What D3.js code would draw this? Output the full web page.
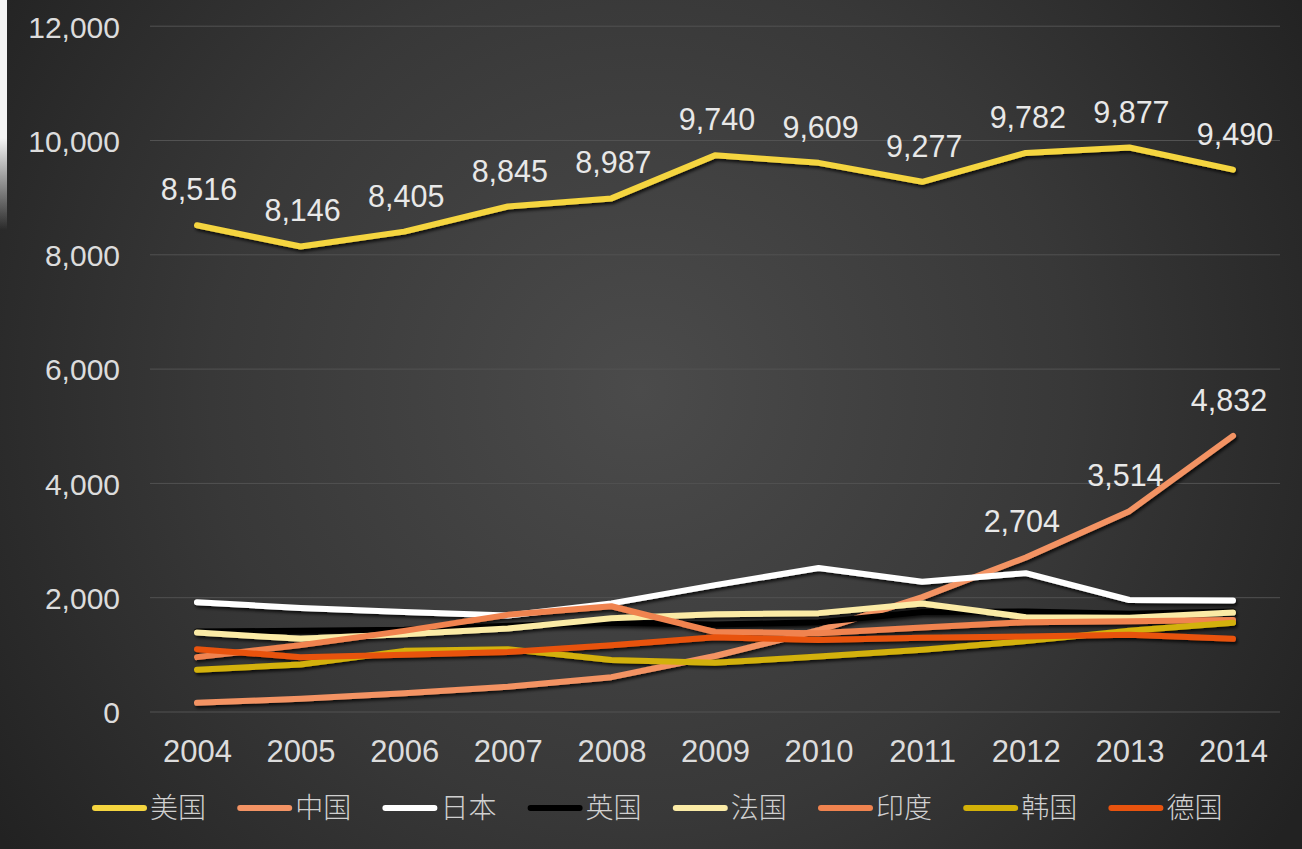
<!DOCTYPE html>
<html><head><meta charset="utf-8">
<script src="https://cdn.jsdelivr.net/npm/d3@7/dist/d3.min.js"></script>
<style>
html,body{margin:0;padding:0;background:#2a2a2a;overflow:hidden;}
svg{display:block;}
</style></head>
<body>
<script>
const years = [2004,2005,2006,2007,2008,2009,2010,2011,2012,2013,2014];
const seriesNames = ["美国","中国","日本","英国","法国","印度","韩国","德国"];
const seriesColors = ["#F5D53F","#F39364","#FFFFFF","#000000","#FBEBA6","#F0834F","#D3B108","#E8530E"];
const usa     = [8516,8146,8405,8845,8987,9740,9609,9277,9782,9877,9490];
const china   = [160,230,330,440,610,980,1430,2010,2704,3514,4832];
const japan   = [1920,1820,1750,1690,1900,2220,2520,2280,2430,1960,1950];
const uk      = [1410,1420,1440,1510,1560,1530,1570,1750,1760,1720,1760];
const france  = [1390,1280,1360,1460,1640,1710,1730,1900,1660,1650,1740];
const india   = [960,1170,1420,1700,1850,1400,1380,1480,1570,1590,1610];
const germany = [1100,960,1000,1050,1170,1310,1260,1300,1320,1350,1280];
const korea   = [740,830,1070,1100,910,860,970,1090,1240,1420,1560];
const seriesValues = [usa,china,japan,uk,france,india,korea,germany];
const yTicks = [0,2000,4000,6000,8000,10000,12000];
const labelledSeries = {"美国":[0,1,2,3,4,5,6,7,8,9,10],"中国":[8,9,10]};

const W=1302,H=849;
const svg=d3.select("body").append("svg").attr("width",W).attr("height",H);
const defs=svg.append("defs");
const rg=defs.append("radialGradient").attr("id","bg").attr("gradientUnits","userSpaceOnUse")
  .attr("cx",640).attr("cy",390).attr("r",780);
rg.append("stop").attr("offset","0%").attr("stop-color","#4b4b4b");
rg.append("stop").attr("offset","55%").attr("stop-color","#383838");
rg.append("stop").attr("offset","100%").attr("stop-color","#222222");
const sh=defs.append("filter").attr("id","shadow").attr("x","-5%").attr("y","-20%").attr("width","110%").attr("height","140%");
sh.append("feDropShadow").attr("dx",1.5).attr("dy",2.5).attr("stdDeviation",1.8).attr("flood-color","#000").attr("flood-opacity",0.75);
const lg=defs.append("linearGradient").attr("id","strip").attr("x1",0).attr("y1",0).attr("x2",0).attr("y2",1);
lg.append("stop").attr("offset","0%").attr("stop-color","#f4f4f4");
lg.append("stop").attr("offset","60%").attr("stop-color","#f4f4f4");
lg.append("stop").attr("offset","100%").attr("stop-color","#f4f4f4").attr("stop-opacity",0);

svg.append("rect").attr("width",W).attr("height",H).attr("fill","url(#bg)");
svg.append("rect").attr("x",0).attr("y",0).attr("width",7).attr("height",230).attr("fill","url(#strip)");

const x=d3.scalePoint().domain(years).range([197,1233]);
const y=d3.scaleLinear().domain([0,12000]).range([712,26.2]);

// gridlines
svg.append("g").selectAll("line").data(yTicks).join("line")
  .attr("x1",150).attr("x2",1280).attr("y1",d=>y(d)).attr("y2",d=>y(d))
  .attr("stroke","#525252").attr("stroke-width",1);

// y axis labels
const yAxis=d3.axisLeft(y).tickValues(yTicks).tickFormat(d3.format(",")).tickSize(0).tickPadding(0);
const ya=svg.append("g").attr("transform","translate(120,0)").call(yAxis);
ya.select(".domain").remove();
ya.selectAll("text").attr("fill","#dcdcdc").attr("font-family","'Liberation Sans',Arial,sans-serif")
  .attr("font-size",30).attr("dy","0.36em");

// x axis labels
const xAxis=d3.axisBottom(x).tickSize(0).tickPadding(0);
const xa=svg.append("g").attr("transform","translate(0,762)").call(xAxis);
xa.select(".domain").remove();
xa.selectAll("text").attr("fill","#dcdcdc").attr("font-family","'Liberation Sans',Arial,sans-serif")
  .attr("font-size",31).attr("dy",0).attr("y",0);

// lines
const line=d3.line().x((d,i)=>x(years[i])).y(d=>y(d));
const lg2=svg.append("g").attr("filter","url(#shadow)");
seriesValues.forEach((vals,k)=>{
  lg2.append("path").datum(vals).attr("d",line).attr("fill","none")
    .attr("stroke",seriesColors[k]).attr("stroke-width",6)
    .attr("stroke-linejoin","round").attr("stroke-linecap","round");
});

// data labels
Object.entries(labelledSeries).forEach(([name,idx])=>{
  const k=seriesNames.indexOf(name);
  svg.append("g").selectAll("text").data(idx).join("text")
    .attr("x",i=>x(years[i])+ (name==="中国"?-4:2)).attr("y",i=>y(seriesValues[k][i])-25)
    .attr("text-anchor","middle").attr("fill","#e8e8e8")
    .attr("font-family","'Liberation Sans',Arial,sans-serif").attr("font-size",30.5)
    .text(i=>d3.format(",")(seriesValues[k][i]));
});

// legend
const leg=svg.append("g");
seriesNames.forEach((n,k)=>{
  const x0=92+k*145.2;
  leg.append("line").attr("x1",x0+3).attr("x2",x0+52).attr("y1",808).attr("y2",808)
    .attr("stroke",seriesColors[k]).attr("stroke-width",6).attr("stroke-linecap","round");
  leg.append("text").attr("x",x0+58).attr("y",818).attr("fill","#d0d0d0")
    .attr("font-family","'Noto Sans CJK SC',sans-serif").attr("font-weight",300).attr("font-size",28)
    .text(n);
});
</script>
</body></html>
